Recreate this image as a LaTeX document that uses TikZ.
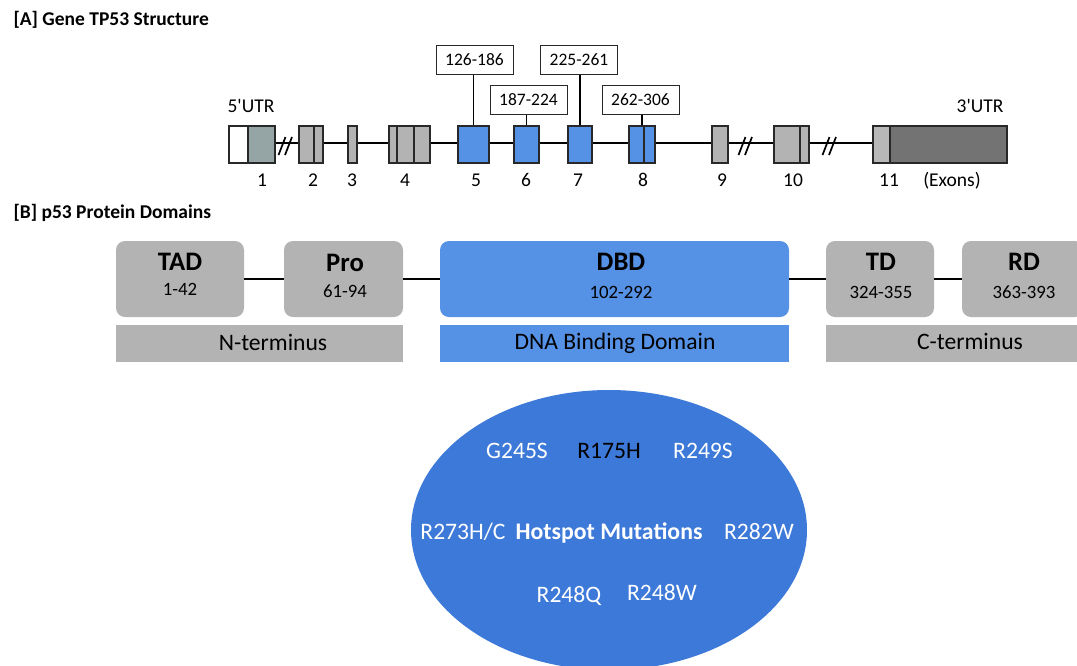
\documentclass[tikz,border=0pt]{standalone}
\usepackage{fontspec}
\setmainfont{Carlito}
\usetikzlibrary{shapes.geometric}
\definecolor{exgrey}{RGB}{179,179,179}
\definecolor{exgreyb}{RGB}{184,184,184}
\definecolor{exblue}{RGB}{85,145,228}
\definecolor{exbg}{RGB}{149,165,166}
\definecolor{exdark}{RGB}{115,115,115}
\definecolor{domgrey}{RGB}{179,179,179}
\definecolor{hotblue}{RGB}{60,121,216}
\definecolor{edge}{RGB}{40,40,40}
\begin{document}
\begin{tikzpicture}[x=1pt,y=-1pt,
  exon/.style={draw=edge, line width=1.1pt, inner sep=0pt, minimum height=37pt},
  gene/.style={line width=2.2pt, black},
  brk/.style={line width=1.7pt, black},
  divider/.style={draw=edge, line width=1.1pt},
  lbox/.style={draw=edge, line width=1pt, fill=white, inner sep=0pt, minimum width=77pt, minimum height=29pt, font=\fontsize{17.5}{20}\selectfont},
  lead/.style={line width=1.8pt, black},
  dom/.style={fill=domgrey, rounded corners=9pt, inner sep=0pt, minimum height=76pt},
  bar/.style={fill=domgrey, inner sep=0pt, minimum height=37pt},
  link/.style={line width=2.2pt, black},
  ttl/.style={anchor=base west, font=\bfseries\fontsize{19.5}{22}\selectfont},
  glab/.style={anchor=base, font=\fontsize{19.5}{22}\selectfont},
  dname/.style={anchor=base, font=\bfseries\fontsize{26.7}{30}\selectfont},
  dnum/.style={anchor=base, font=\fontsize{18.8}{22}\selectfont},
  blab/.style={anchor=base, font=\fontsize{23.6}{27}\selectfont},
  mut/.style={anchor=base, text=white, font=\fontsize{23.6}{27}\selectfont}
]
\useasboundingbox (0,0) rectangle (1077,665);
\clip (0,0) rectangle (1077,665);

% titles
\node[ttl] (ta) at (10,25.5) {[A] Gene TP53 Structure};
\node[ttl] (tb) at (10,218.3) {[B] p53 Protein Domains};

% gene backbone
\draw[gene] (248,143) coordinate (g0) -- (873,143) coordinate (g1);

% exons
\node[exon, fill=white, minimum width=19pt] (e1a) at (238.5,144.5) {};
\node[exon, fill=exbg, minimum width=27pt] (e1b) at (261.5,144.5) {};
\node[exon, fill=exgrey, minimum width=24pt] (e2) at (311,144.5) {};
\node[exon, fill=exgrey, minimum width=9pt] (e3) at (352.5,144.5) {};
\node[exon, fill=exgrey, minimum width=41pt] (e4) at (409.5,144.5) {};
\node[exon, fill=exblue, minimum width=31pt] (e5) at (473.5,144.5) {};
\node[exon, fill=exblue, minimum width=25pt] (e6) at (526.5,144.5) {};
\node[exon, fill=exblue, minimum width=24pt] (e7) at (580,144.5) {};
\node[exon, fill=exblue, minimum width=26pt] (e8) at (642,144.5) {};
\node[exon, fill=exgrey, minimum width=16pt] (e9) at (720,144.5) {};
\node[exon, fill=exgrey, minimum width=35pt] (e10) at (791.5,144.5) {};
\node[exon, fill=exgreyb, minimum width=17pt] (e11a) at (881.5,144.5) {};
\node[exon, fill=exdark, minimum width=117pt] (e11b) at (948.5,144.5) {};

% dividers inside exons
\draw[divider] (314,126) -- (314,163);
\draw[divider] (397,126) -- (397,163);
\draw[divider] (414,126) -- (414,163);
\draw[divider] (644,126) -- (644,163);
\draw[divider] (800,126) -- (800,163);

% breaks
\foreach \c in {282,288.5,742,748.5,826,832.5}{
  \draw[brk] (\c-3.5,155) -- (\c+3.5,137);
}

% UTR labels and exon numbers
\node[glab] (utr5) at (251,112.7) {5\textquotesingle UTR};
\node[glab, anchor=base east] (utr3) at (1007,112) {3\textquotesingle UTR};
\node[glab] (n1) at (262,186.5) {1};
\node[glab] (n2) at (313,186.5) {2};
\node[glab] (n3) at (352,186.5) {3};
\node[glab] (n4) at (405,186.5) {4};
\node[glab] (n5) at (476,186.5) {5};
\node[glab] (n6) at (526,186.5) {6};
\node[glab] (n7) at (578,186.5) {7};
\node[glab] (n8) at (643,186.5) {8};
\node[glab] (n9) at (722,186.5) {9};
\node[glab] (n10) at (793,186.5) {10};
\node[glab] (n11) at (889,186.5) {11};
\node[glab] (nex) at (952,186.5) {(Exons)};

% codon range boxes
\node[lbox] (lb1) at (474.5,59.5) {126-186};
\node[lbox] (lb2) at (528.5,100) {187-224};
\node[lbox] (lb3) at (579,59.5) {225-261};
\node[lbox] (lb4) at (640.5,100) {262-306};
\draw[lead] (e5.north) -- (e5.north |- lb1.south);
\draw[lead] (e6.north) -- (e6.north |- lb2.south);
\draw[lead] (e7.north) -- (e7.north |- lb3.south);
\draw[lead] (e8.north) -- (e8.north |- lb4.south);

% protein domains
\node[dom, minimum width=128pt] (tad) at (180,279) {};
\node[dom, minimum width=119pt] (pro) at (343.5,279) {};
\node[dom, fill=exblue, minimum width=349pt] (dbd) at (614.5,279) {};
\node[dom, minimum width=108pt] (td) at (880,279) {};
\node[dom, minimum width=122pt] (rd) at (1023,279) {};
\draw[link] (tad.east) -- (pro.west);
\draw[link] (pro.east) -- (dbd.west);
\draw[link] (dbd.east) -- (td.west);
\draw[link] (td.east) -- (rd.west);

\node[dname] (tadn) at (180,270.7) {TAD};
\node[dnum] (tadr) at (180,295) {1-42};
\node[dname] (pron) at (345,271.5) {Pro};
\node[dnum] (pror) at (345,297.3) {61-94};
\node[dname] (dbdn) at (621,270) {DBD};
\node[dnum] (dbdr) at (621,298) {102-292};
\node[dname] (tdn) at (881,270) {TD};
\node[dnum] (tdr) at (881,298.3) {324-355};
\node[dname] (rdn) at (1024,270) {RD};
\node[dnum] (rdr) at (1024,298.3) {363-393};

% bars
\node[bar, minimum width=287pt] (nbar) at (259.5,343.5) {};
\node[bar, fill=exblue, minimum width=349pt] (dbar) at (614.5,343.5) {};
\node[bar, minimum width=290pt] (cbar) at (971,343.5) {};
\node[blab] (nt) at (273,350.5) {N-terminus};
\node[blab] (dt) at (615,349.5) {DNA Binding Domain};
\node[blab] (ct) at (970,349.5) {C-terminus};

% hotspot ellipse
\node[ellipse, fill=hotblue, inner sep=0pt, minimum width=396pt, minimum height=280pt] (hot) at (609,530) {};
\node[mut] (m1) at (517,458.3) {G245S};
\node[mut, text=black] (m2) at (609,458.3) {R175H};
\node[mut] (m3) at (703,458.3) {R249S};
\node[mut] (m4) at (463,539.3) {R273H/C};
\node[mut, font=\bfseries\fontsize{23.8}{27}\selectfont] (hs) at (609,539.3) {Hotspot Mutations};
\node[mut] (m5) at (759,539.3) {R282W};
\node[mut] (m6) at (569,602.5) {R248Q};
\node[mut] (m7) at (662,600) {R248W};
\end{tikzpicture}
\end{document}
